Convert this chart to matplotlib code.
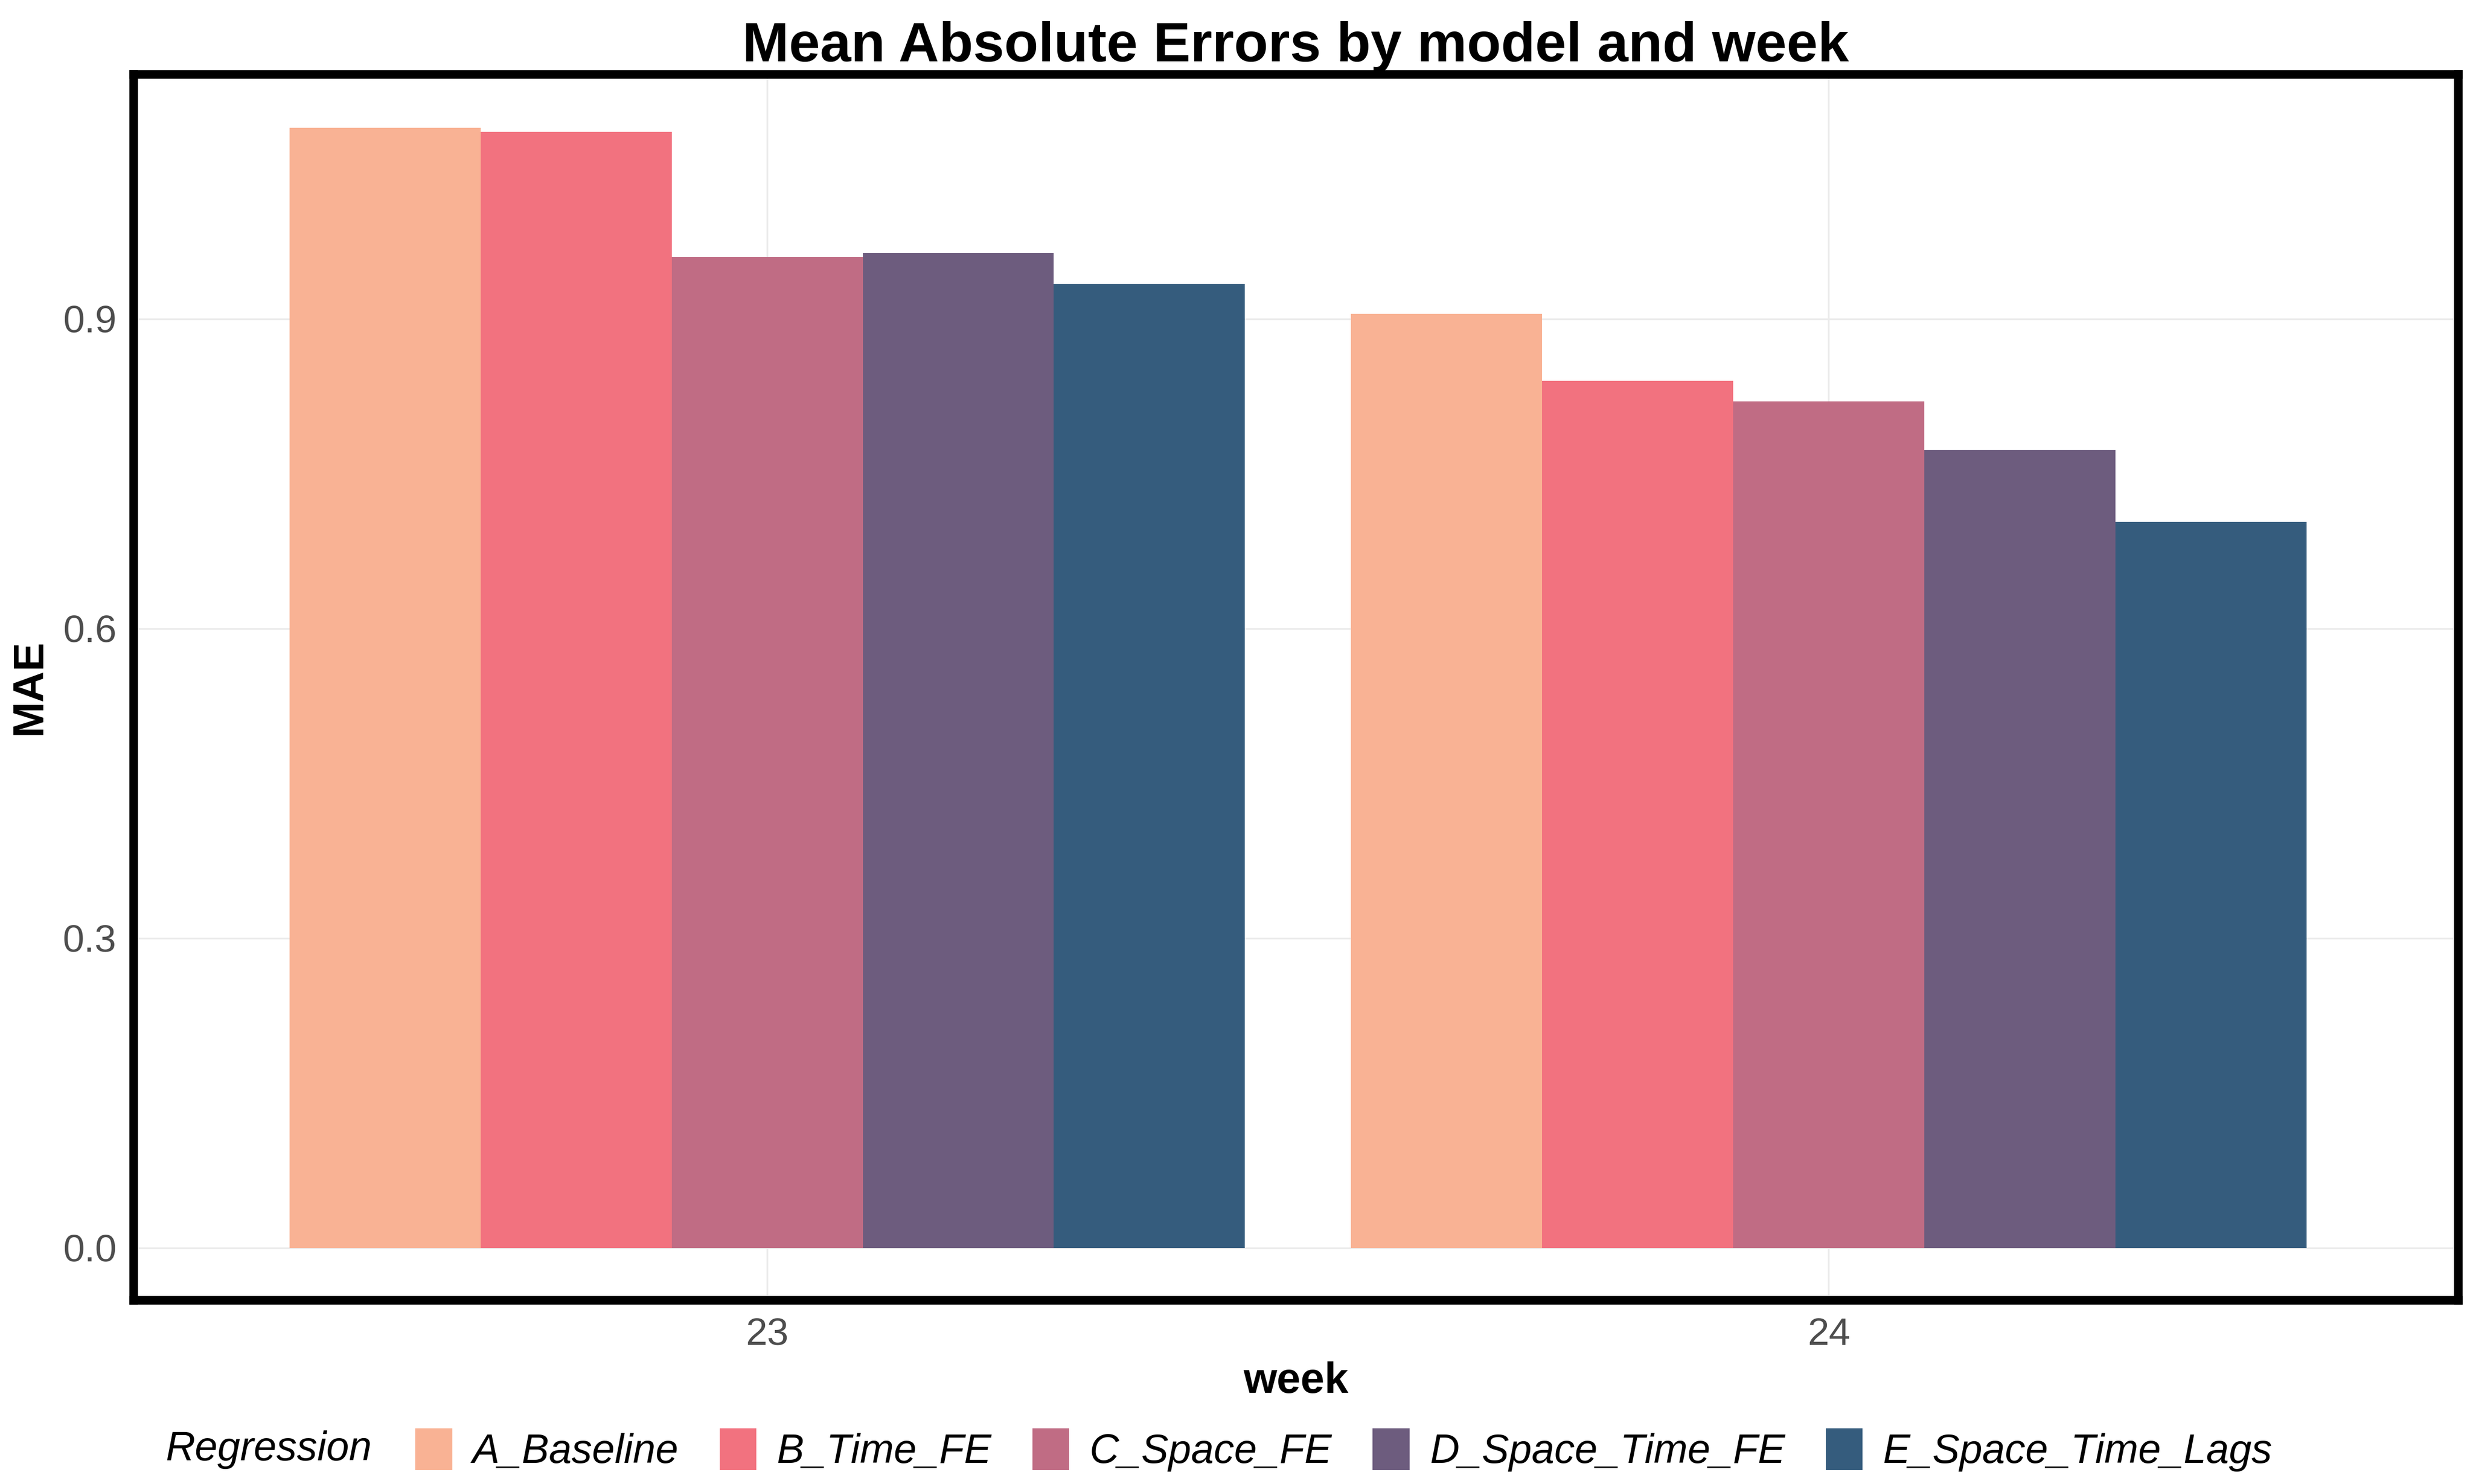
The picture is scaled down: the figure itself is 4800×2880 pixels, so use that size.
import matplotlib.pyplot as plt
import numpy as np

plt.rcParams['font.family'] = ['Liberation Sans', 'DejaVu Sans']

weeks = ['23', '24']
models = ['A_Baseline', 'B_Time_FE', 'C_Space_FE', 'D_Space_Time_FE', 'E_Space_Time_Lags']
colors = ['#F9B294', '#F2727F', '#C06C84', '#6D5C7E', '#355C7D']
mae = {
    'A_Baseline': [1.085, 0.905],
    'B_Time_FE': [1.081, 0.840],
    'C_Space_FE': [0.960, 0.820],
    'D_Space_Time_FE': [0.964, 0.773],
    'E_Space_Time_Lags': [0.934, 0.703],
}

fig = plt.figure(figsize=(16, 9.6), dpi=300)
ax = fig.add_axes([0.054, 0.124, 0.94, 0.826])

x = np.arange(1, len(weeks) + 1)
w = 0.9 / len(models)
handles = []
for i, m in enumerate(models):
    h = ax.bar(x - 0.45 + w * (i + 0.5), mae[m], width=w, color=colors[i], label=m, zorder=2)
    handles.append(h)

ax.set_xlim(0.403, 2.593)
ax.set_ylim(-0.0505, 1.137)
ax.set_xticks(x)
ax.set_xticklabels(weeks)
ax.set_yticks([0.0, 0.3, 0.6, 0.9])
ax.set_yticklabels(['0.0', '0.3', '0.6', '0.9'])
ax.grid(True, color='#EBEBEB', lw=0.8, zorder=0)
ax.tick_params(length=0, labelsize=18, labelcolor='#4D4D4D', pad=8)
for s in ax.spines.values():
    s.set_linewidth(4)
    s.set_color('black')

ax.set_title('Mean Absolute Errors by model and week', fontsize=26, fontweight='bold', pad=6)
ax.set_xlabel('week', fontsize=20, fontweight='bold', labelpad=4)
ax.set_ylabel('MAE', fontsize=20, fontweight='bold', labelpad=6)

fig.text(0.067, 0.023, 'Regression', fontsize=19, style='italic', va='center')
fig.legend(handles=handles, labels=models, loc='center left', bbox_to_anchor=(0.168, 0.023),
           ncol=5, frameon=False, prop={'size': 19, 'style': 'italic'},
           handlelength=0.9, handleheight=1.2, handletextpad=0.5, columnspacing=1.0,
           borderaxespad=0, borderpad=0)

fig.savefig('out.png')
